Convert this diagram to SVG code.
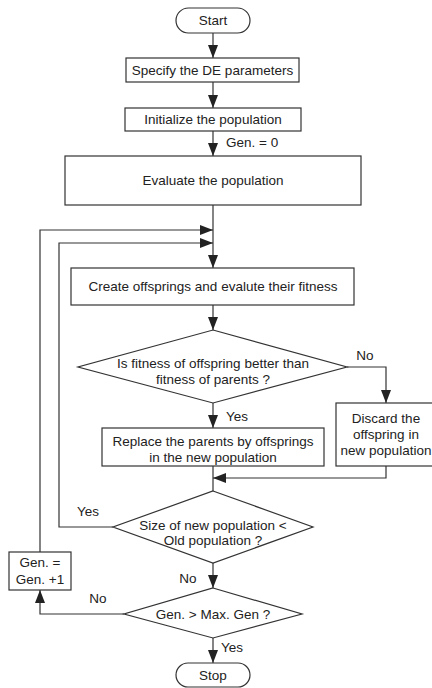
<svg xmlns="http://www.w3.org/2000/svg" width="432" height="688" viewBox="0 0 432 688">
<style>
.box{fill:#fff;stroke:#333;stroke-width:1.2}
.ln{fill:none;stroke:#333;stroke-width:1.2}
text{font-family:"Liberation Sans",Arial,sans-serif;font-size:13.5px;fill:#222;text-anchor:middle;dominant-baseline:central}
.l{text-anchor:start}
</style>
<defs>
<marker id="ah" markerUnits="userSpaceOnUse" markerWidth="13" markerHeight="12" viewBox="0 0 13 10" refX="13" refY="5" orient="auto">
<path d="M0,0 L13,5 L0,10 Z" fill="#222"/>
</marker>
</defs>
<rect width="432" height="688" fill="#fff"/>
<g id="connectors">
<path class="ln" d="M213,33 V58" marker-end="url(#ah)"/>
<path class="ln" d="M213,82 V108" marker-end="url(#ah)"/>
<path class="ln" d="M213,131 V156" marker-end="url(#ah)"/>
<path class="ln" d="M213,205 V268" marker-end="url(#ah)"/>
<path class="ln" d="M40,552 V230 H213" marker-end="url(#ah)"/>
<path class="ln" d="M113,527 H59 V243 H213" marker-end="url(#ah)"/>
<path class="ln" d="M213,305 V330" marker-end="url(#ah)"/>
<path class="ln" d="M347,367 H386 V403" marker-end="url(#ah)"/>
<path class="ln" d="M213,403 V428" marker-end="url(#ah)"/>
<path class="ln" d="M213,466 V491"/>
<path class="ln" d="M386,466 V478 H213" marker-end="url(#ah)"/>
<path class="ln" d="M213,563 V588" marker-end="url(#ah)"/>
<path class="ln" d="M124,614 H40 V590" marker-end="url(#ah)"/>
<path class="ln" d="M213,638 V663" marker-end="url(#ah)"/>
<text class="l" x="226" y="142">Gen. = 0</text>
<text x="365" y="355">No</text>
<text class="l" x="226" y="416">Yes</text>
<text x="88" y="511">Yes</text>
<text x="188" y="578">No</text>
<text x="98" y="598">No</text>
<text class="l" x="221" y="647">Yes</text>
</g>
<g id="start"><rect class="box" x="176" y="8" width="74" height="25" rx="12.5"/><text x="213" y="20">Start</text></g>
<g id="specify"><rect class="box" x="126" y="58" width="173" height="24"/><text x="212.5" y="70">Specify the DE parameters</text></g>
<g id="init"><rect class="box" x="125" y="108" width="176" height="23"/><text x="213" y="119">Initialize the population</text></g>
<g id="evaluate"><rect class="box" x="65" y="156" width="296" height="49"/><text x="213" y="180">Evaluate the population</text></g>
<g id="create"><rect class="box" x="71" y="268" width="283" height="37"/><text x="213" y="286">Create offsprings and evalute their fitness</text></g>
<g id="decision1"><polygon class="box" points="213,330 347,367 213,403 78,367"/><text x="213" y="363">Is fitness of offspring better than</text><text x="213" y="379">fitness of parents ?</text></g>
<g id="replace"><rect class="box" x="102" y="428" width="222" height="38"/><text x="213" y="441">Replace the parents by offsprings</text><text x="213" y="457">in the new population</text></g>
<g id="discard"><rect class="box" x="336" y="403" width="100" height="63"/><text x="386" y="418">Discard the</text><text x="386" y="434">offspring in</text><text x="386" y="450">new population</text></g>
<g id="decision2"><polygon class="box" points="213,491 313,527 213,563 113,527"/><text x="213" y="525">Size of new population &lt;</text><text x="213" y="540">Old population ?</text></g>
<g id="gen"><rect class="box" x="9" y="552" width="62" height="38"/><text x="40" y="562">Gen. =</text><text x="40" y="579">Gen. +1</text></g>
<g id="decision3"><polygon class="box" points="213,588 302,614 213,638 124,614"/><text x="213" y="614">Gen. &gt; Max. Gen ?</text></g>
<g id="stop"><rect class="box" x="176" y="663" width="74" height="24" rx="12"/><text x="213" y="675">Stop</text></g>
</svg>
